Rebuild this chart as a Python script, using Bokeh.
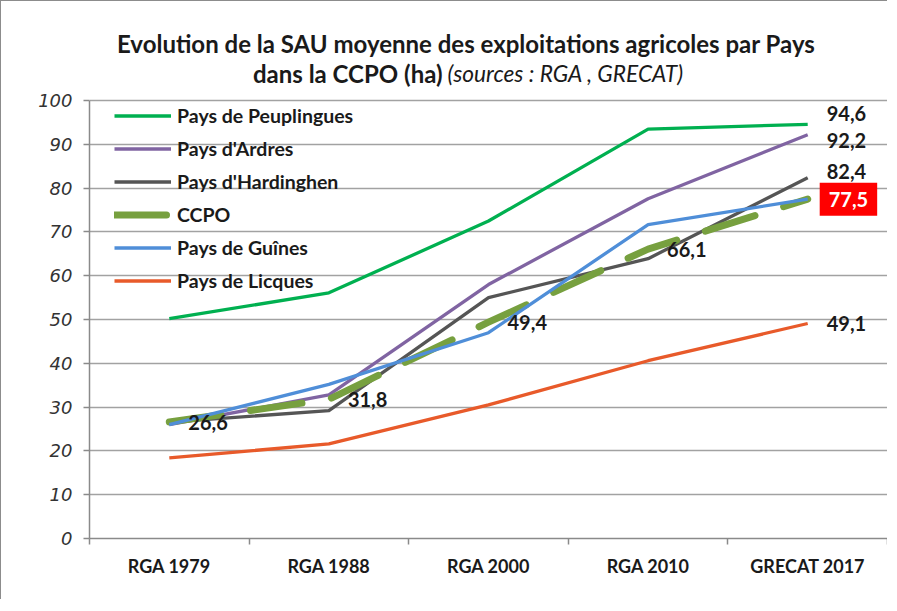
from bokeh.plotting import figure
from bokeh.models import (FixedTicker, Range1d, Legend, Label, ColumnDataSource)
from bokeh.core.properties import value
from bokeh.embed import file_html
from bokeh.resources import INLINE

categories = ["RGA 1979", "RGA 1988", "RGA 2000", "RGA 2010", "GRECAT 2017"]
peuplingues = [50.2, 56.1, 72.5, 93.5, 94.6]
ardres = [26.0, 32.8, 58.0, 77.6, 92.2]
hardinghen = [26.6, 29.2, 55.0, 63.9, 82.4]
ccpo = [26.6, 31.8, 49.4, 66.1, 77.5]
guines = [26.0, 35.2, 47.0, 71.7, 77.5]
licques = [18.4, 21.6, 30.5, 40.6, 49.1]
y_ticks = [0, 10, 20, 30, 40, 50, 60, 70, 80, 90, 100]

names = ["Pays de Peuplingues", "Pays d'Ardres", "Pays d'Hardinghen", "CCPO",
         "Pays de Guînes", "Pays de Licques"]
series = [peuplingues, ardres, hardinghen, ccpo, guines, licques]
colors = ["#00B050", "#8064A2", "#555555", "#77A03F", "#4F8ED8", "#E85A2A"]

xs = [i + 0.5 for i in range(len(categories))]

LABEL_FONT = "Lato"

p = figure(width=887, height=599, output_backend="svg", toolbar_location=None,
           x_range=Range1d(0, len(categories)), y_range=Range1d(0, 118.3),
           min_border_left=88, min_border_right=1, min_border_top=19,
           min_border_bottom=62,
           styles={"border-left": "1px solid #8c8c8c",
                   "border-top": "1px solid #8c8c8c"})
p.outline_line_color = None
p.background_fill_color = "white"
p.border_fill_color = "white"

# grid
p.xgrid.grid_line_color = None
p.ygrid.grid_line_color = "#a2a2a2"
p.ygrid.grid_line_width = 1.4
p.ygrid.ticker = FixedTicker(ticks=y_ticks)

# y axis
p.yaxis.ticker = FixedTicker(ticks=y_ticks)
p.yaxis.bounds = (y_ticks[0], y_ticks[-1])
p.yaxis.axis_line_color = "#8a8a8a"
p.yaxis.axis_line_width = 1.5
p.yaxis.major_tick_line_color = "#8a8a8a"
p.yaxis.major_tick_line_width = 1.5
p.yaxis.major_tick_out = 6
p.yaxis.major_tick_in = 0
p.yaxis.minor_tick_line_color = None
p.yaxis.major_label_text_font = "DejaVu Sans"
p.yaxis.major_label_text_font_style = "italic"
p.yaxis.major_label_text_font_size = "18px"
p.yaxis.major_label_text_color = "#333333"
p.yaxis.major_label_standoff = 11

# x axis
p.xaxis.ticker = FixedTicker(ticks=xs, minor_ticks=list(range(len(categories) + 1)))
p.xaxis.major_label_overrides = {x: c for x, c in zip(xs, categories)}
p.xaxis.axis_line_color = "#8a8a8a"
p.xaxis.axis_line_width = 1.5
p.xaxis.major_tick_line_color = None
p.xaxis.minor_tick_line_color = "#8a8a8a"
p.xaxis.minor_tick_line_width = 1.5
p.xaxis.minor_tick_out = 6
p.xaxis.minor_tick_in = 0
p.xaxis.major_label_text_font = LABEL_FONT
p.xaxis.major_label_text_font_style = "bold"
p.xaxis.major_label_text_font_size = "18px"
p.xaxis.major_label_text_color = "#1a1a1a"
p.xaxis.major_label_standoff = 10

# series
items = []
for name, vals, col in zip(names, series, colors):
    if name == "CCPO":
        r = p.line(xs, vals, line_color=col, line_width=7, line_dash="52 30",
                   line_cap="round", line_join="round")
    else:
        r = p.line(xs, vals, line_color=col, line_width=3.3, line_join="round")
    items.append((name, [r]))

legend = Legend(items=items, location=(25, 241), orientation="vertical")
legend.background_fill_alpha = 0
legend.border_line_color = None
legend.padding = 0
legend.margin = 0
legend.spacing = 0
legend.glyph_width = 57
legend.glyph_height = 33
legend.label_height = 33
legend.label_standoff = 6
legend.label_text_font = LABEL_FONT
legend.label_text_font_style = "bold"
legend.label_text_font_size = "19.5px"
legend.label_text_color = "#1a1a1a"
p.add_layout(legend, "center")

# CCPO data labels (first four points)
lab_src = ColumnDataSource(dict(x=xs[:4], y=ccpo[:4],
                                t=[f"{v:.1f}".replace(".", ",") for v in ccpo[:4]]))
p.text(x="x", y="y", text="t", source=lab_src, x_offset=19, y_offset=0,
       text_font=value(LABEL_FONT), text_font_style="bold", text_font_size="20px",
       text_color="#1a1a1a", text_baseline="middle", text_align="left")

# end labels
end_names = ["Pays de Peuplingues", "Pays d'Ardres", "Pays d'Hardinghen", "Pays de Licques"]
end_dy = [-11, 6, -6, 0]
end_vals = [series[names.index(n)][-1] for n in end_names]
end_src = ColumnDataSource(dict(x=[xs[-1]] * len(end_vals), y=end_vals,
                                t=[f"{v:.1f}".replace(".", ",") for v in end_vals],
                                dy=end_dy))
p.text(x="x", y="y", text="t", source=end_src, x_offset=19, y_offset="dy",
       text_font=value(LABEL_FONT), text_font_style="bold", text_font_size="20px",
       text_color="#1a1a1a", text_baseline="middle", text_align="left")

p.add_layout(Label(x=xs[-1], y=ccpo[-1], text=f"{ccpo[-1]:.1f}".replace(".", ","),
                   x_offset=12, y_offset=0, text_font=LABEL_FONT,
                   text_font_style="bold", text_font_size="20px",
                   text_color="white", text_align="left", text_baseline="middle",
                   background_fill_color="#FF0000", padding=9))

# title
p.add_layout(Label(x=2.36, y=113.1, text="Evolution de la SAU moyenne des exploitations agricoles par Pays",
                   text_font=LABEL_FONT, text_font_style="bold", text_font_size="24px",
                   text_color="#1a1a1a", text_align="center", text_baseline="middle"))
p.add_layout(Label(x=2.212, y=106.2, text="dans la CCPO (ha)",
                   text_font=LABEL_FONT, text_font_style="bold", text_font_size="24px",
                   text_color="#1a1a1a", text_align="right", text_baseline="middle"))
p.add_layout(Label(x=2.243, y=106.2, text="(sources : RGA , GRECAT)",
                   text_font=LABEL_FONT, text_font_style="italic", text_font_size="22.7px",
                   text_color="#1a1a1a", text_align="left", text_baseline="middle"))

open("out.html", "w").write(file_html(p, INLINE))
